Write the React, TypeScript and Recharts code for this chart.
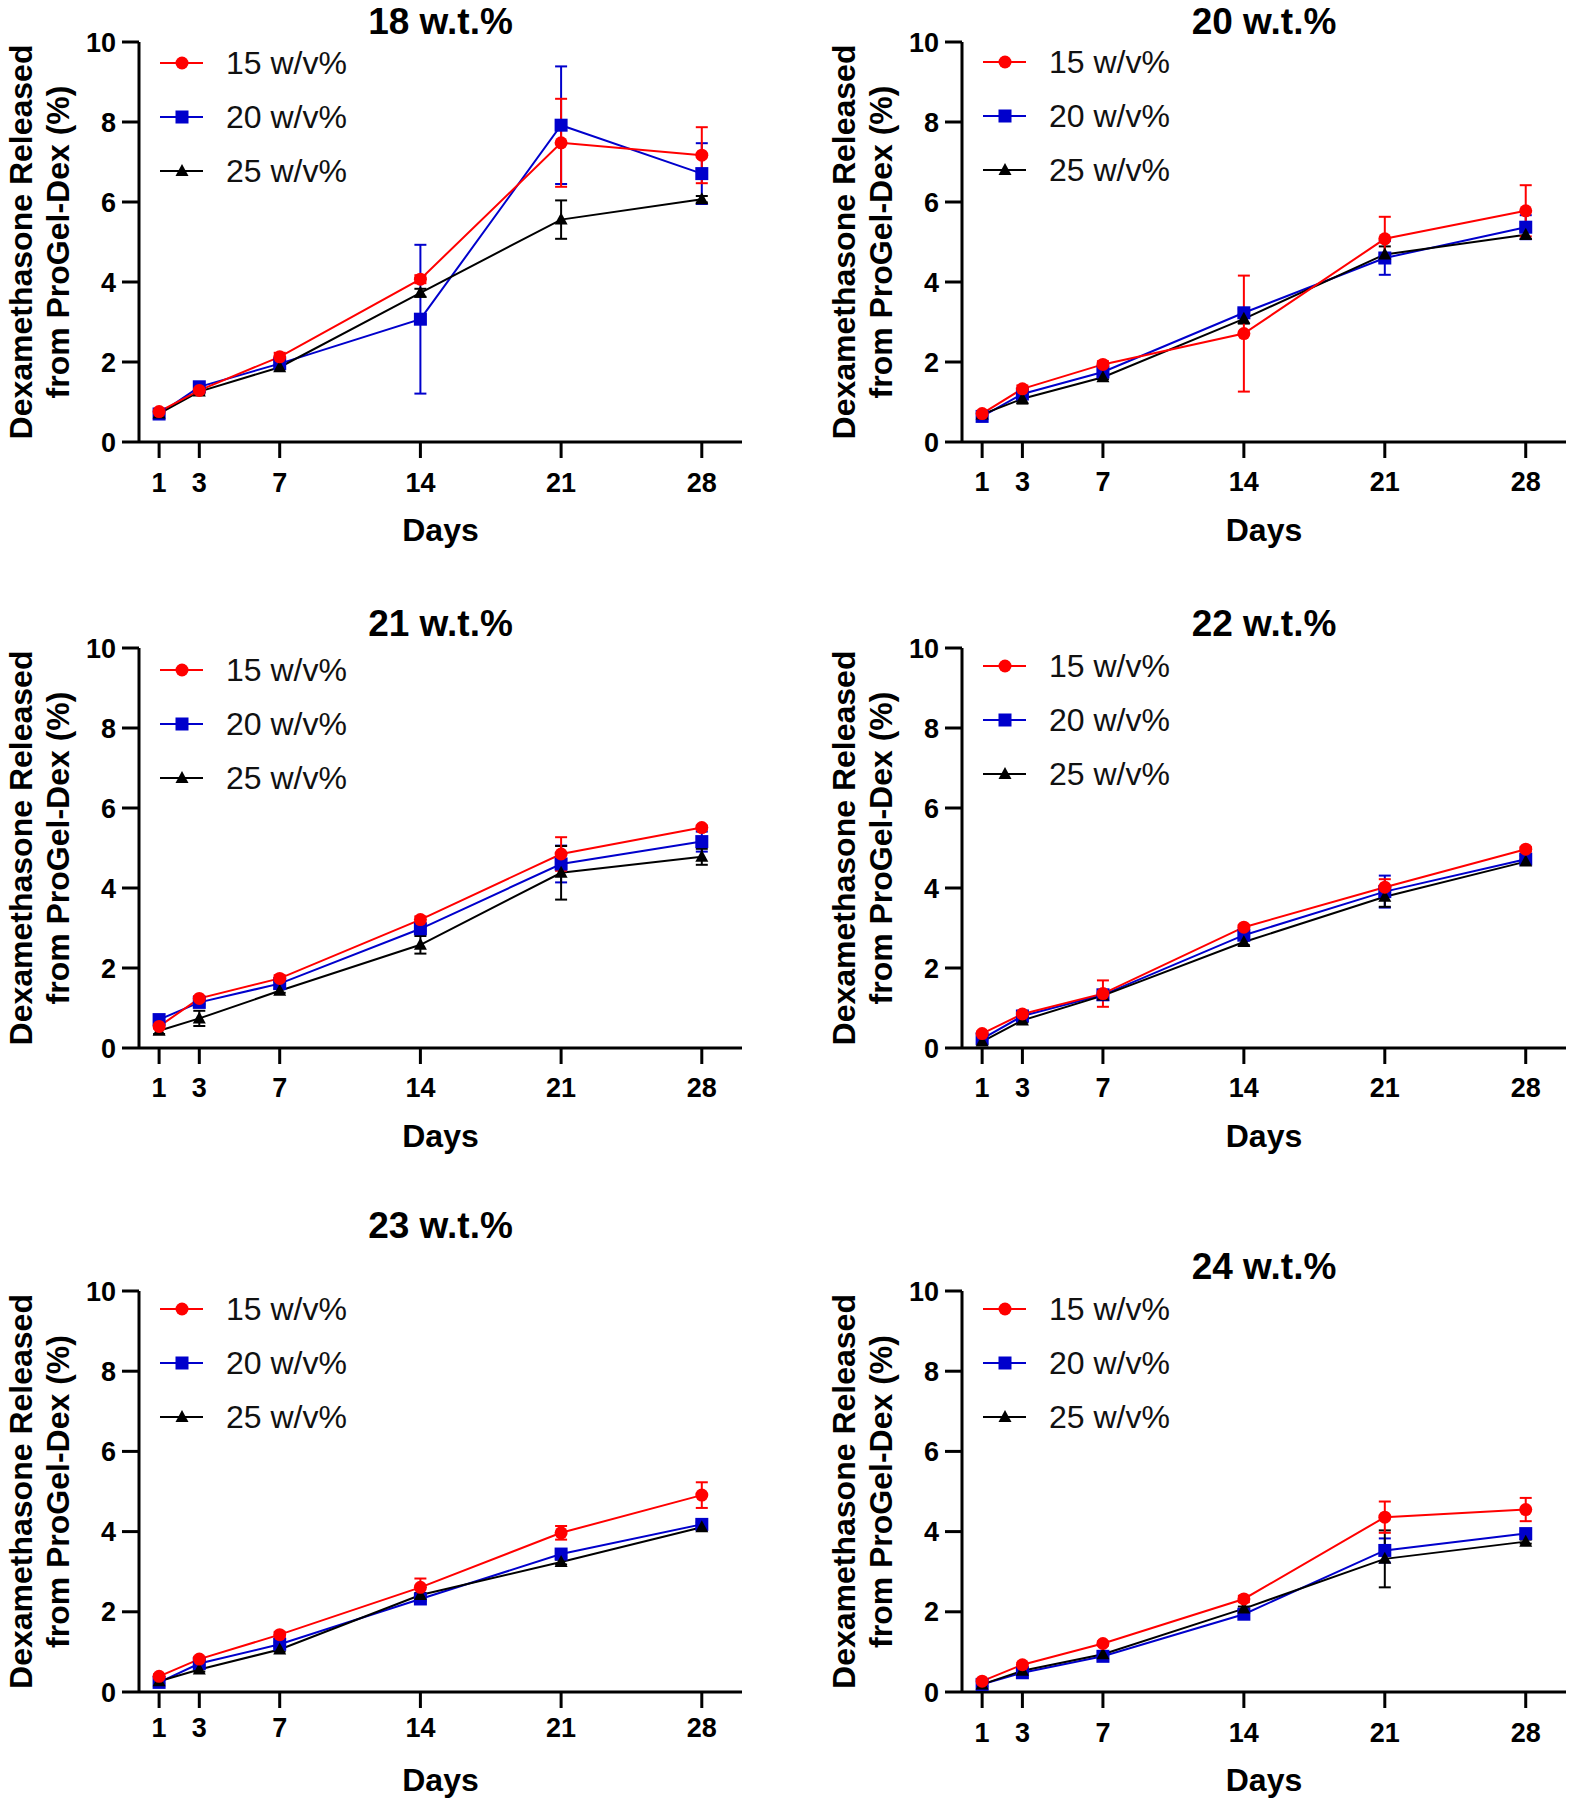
import React from 'react';
import { LineChart, Line, XAxis, YAxis, ErrorBar, Legend, Label } from 'recharts';

// ---------- data ----------
const DAYS = [1, 3, 7, 14, 21, 28];
const X_DOMAIN: [number, number] = [0, 30];
const Y_DOMAIN: [number, number] = [0, 10];
const Y_TICKS = [0, 2, 4, 6, 8, 10];
const SERIES_LABELS = ['15 w/v%', '20 w/v%', '25 w/v%'];
const X_LABEL = 'Days';
const Y_LABEL_LINES = ['Dexamethasone Released', 'from ProGel-Dex (%)'];
const PANEL_TITLES = ['18 w.t.%', '20 w.t.%', '21 w.t.%', '22 w.t.%', '23 w.t.%', '24 w.t.%'];

// 18 w.t.%
const WT18_15 = [0.76, 1.29, 2.13, 4.07, 7.48, 7.17];
const WT18_15_SD = [0.05, 0.05, 0.1, 0.1, 1.1, 0.7];
const WT18_20 = [0.7, 1.38, 1.96, 3.07, 7.92, 6.71];
const WT18_20_SD = [0.1, 0.05, 0.05, 1.86, 1.47, 0.76];
const WT18_25 = [0.71, 1.26, 1.87, 3.73, 5.56, 6.07];
const WT18_25_SD = [0.05, 0.05, 0.05, 0.1, 0.48, 0.08];

// 20 w.t.%
const WT20_15 = [0.71, 1.33, 1.94, 2.71, 5.08, 5.78];
const WT20_15_SD = [0.05, 0.08, 0.08, 1.45, 0.55, 0.64];
const WT20_20 = [0.64, 1.2, 1.75, 3.23, 4.6, 5.37];
const WT20_20_SD = [0.05, 0.05, 0.05, 0.1, 0.42, 0.3];
const WT20_25 = [0.69, 1.08, 1.62, 3.08, 4.69, 5.18];
const WT20_25_SD = [0.05, 0.12, 0.05, 0.12, 0.2, 0.1];

// 21 w.t.%
const WT21_15 = [0.54, 1.24, 1.74, 3.21, 4.85, 5.51];
const WT21_15_SD = [0.05, 0.06, 0.08, 0.08, 0.42, 0.05];
const WT21_20 = [0.71, 1.14, 1.61, 2.98, 4.6, 5.16];
const WT21_20_SD = [0.05, 0.05, 0.05, 0.05, 0.46, 0.25];
const WT21_25 = [0.43, 0.74, 1.43, 2.58, 4.38, 4.78];
const WT21_25_SD = [0.08, 0.19, 0.05, 0.22, 0.67, 0.2];

// 22 w.t.%
const WT22_15 = [0.36, 0.85, 1.36, 3.02, 4.02, 4.97];
const WT22_15_SD = [0.05, 0.06, 0.33, 0.06, 0.2, 0.06];
const WT22_20 = [0.23, 0.8, 1.33, 2.82, 3.91, 4.72];
const WT22_20_SD = [0.05, 0.05, 0.05, 0.08, 0.4, 0.08];
const WT22_25 = [0.16, 0.69, 1.31, 2.65, 3.78, 4.66];
const WT22_25_SD = [0.05, 0.05, 0.05, 0.08, 0.25, 0.05];

// 23 w.t.%
const WT23_15 = [0.39, 0.82, 1.43, 2.61, 3.97, 4.91];
const WT23_15_SD = [0.05, 0.06, 0.07, 0.22, 0.17, 0.32];
const WT23_20 = [0.24, 0.71, 1.19, 2.32, 3.44, 4.18];
const WT23_20_SD = [0.05, 0.05, 0.05, 0.05, 0.08, 0.05];
const WT23_25 = [0.27, 0.56, 1.06, 2.42, 3.24, 4.11];
const WT23_25_SD = [0.05, 0.05, 0.05, 0.05, 0.06, 0.05];

// 24 w.t.%
const WT24_15 = [0.27, 0.68, 1.21, 2.32, 4.36, 4.55];
const WT24_15_SD = [0.05, 0.05, 0.05, 0.08, 0.39, 0.29];
const WT24_20 = [0.19, 0.48, 0.89, 1.94, 3.53, 3.95];
const WT24_20_SD = [0.05, 0.05, 0.05, 0.05, 0.3, 0.05];
const WT24_25 = [0.19, 0.53, 0.94, 2.08, 3.32, 3.75];
const WT24_25_SD = [0.05, 0.05, 0.05, 0.05, 0.71, 0.05];

const PANEL_VALUES = [
  [WT18_15, WT18_20, WT18_25],
  [WT20_15, WT20_20, WT20_25],
  [WT21_15, WT21_20, WT21_25],
  [WT22_15, WT22_20, WT22_25],
  [WT23_15, WT23_20, WT23_25],
  [WT24_15, WT24_20, WT24_25],
];
const PANEL_SD = [
  [WT18_15_SD, WT18_20_SD, WT18_25_SD],
  [WT20_15_SD, WT20_20_SD, WT20_25_SD],
  [WT21_15_SD, WT21_20_SD, WT21_25_SD],
  [WT22_15_SD, WT22_20_SD, WT22_25_SD],
  [WT23_15_SD, WT23_20_SD, WT23_25_SD],
  [WT24_15_SD, WT24_20_SD, WT24_25_SD],
];

// ---------- styling ----------
const FONT = '"Liberation Sans", Arial, Helvetica, sans-serif';
const SERIES = [
  { key: 's15', err: 'e15', color: '#ff0000', shape: 'circle' },
  { key: 's20', err: 'e20', color: '#0000cc', shape: 'square' },
  { key: 's25', err: 'e25', color: '#000000', shape: 'triangle' },
];
const DRAW_ORDER = [1, 2, 0];
const YW = 60;
const XH = 60;
const TITLE_SIZE = 37;

const LAYOUT = [
  { cx: 0, cy: 0, cw: 770, ch: 580, pl: 139, pt: 42, pr: 742, pb: 442, titleY: 21, legY: 21, tickM: 15 },
  { cx: 790, cy: 0, cw: 779, ch: 580, pl: 962, pt: 42, pr: 1566, pb: 442, titleY: 21, legY: 20, tickM: 14 },
  { cx: 0, cy: 590, cw: 770, ch: 580, pl: 139, pt: 648, pr: 742, pb: 1048, titleY: 623, legY: 22, tickM: 14 },
  { cx: 790, cy: 590, cw: 779, ch: 580, pl: 962, pt: 648, pr: 1566, pb: 1048, titleY: 623, legY: 18, tickM: 14 },
  { cx: 0, cy: 1190, cw: 770, ch: 610, pl: 139, pt: 1291, pr: 742, pb: 1692, titleY: 1225, legY: 18, tickM: 10 },
  { cx: 790, cy: 1190, cw: 779, ch: 610, pl: 962, pt: 1291, pr: 1566, pb: 1692, titleY: 1266, legY: 18, tickM: 15 },
];

function Marker({ shape, cx, cy, color }: { shape: string; cx: number; cy: number; color: string }) {
  if (shape === 'circle') return <circle cx={cx} cy={cy} r={6.5} fill={color} />;
  if (shape === 'square') return <rect x={cx - 6.5} y={cy - 6.5} width={13} height={13} fill={color} />;
  return <polygon points={`${cx},${cy - 7} ${cx + 6.5},${cy + 5} ${cx - 6.5},${cy + 5}`} fill={color} />;
}

function renderLegend(props: any) {
  const payload: any[] = props.payload || [];
  const rows = SERIES.map((s, i) => {
    const e = payload.find((p) => p.dataKey === s.key);
    return { label: e ? e.value : SERIES_LABELS[i], color: e && e.color ? e.color : s.color, shape: s.shape };
  });
  return (
    <div>
      {rows.map((r, i) => (
        <div key={i} style={{ display: 'flex', alignItems: 'center', height: 54 }}>
          <svg width={44} height={20} style={{ display: 'block' }}>
            <line x1={0} y1={10} x2={43} y2={10} stroke={r.color} strokeWidth={2} />
            <Marker shape={r.shape} cx={22} cy={10} color={r.color} />
          </svg>
          <span style={{ marginLeft: 22, fontSize: 32, lineHeight: '32px', color: '#111', fontFamily: FONT, whiteSpace: 'nowrap' }}>
            {r.label}
          </span>
        </div>
      ))}
    </div>
  );
}

function Panel({ index }: { index: number }) {
  const L = LAYOUT[index];
  const values = PANEL_VALUES[index];
  const sds = PANEL_SD[index];
  const data = DAYS.map((day, i) => ({
    day,
    s15: values[0][i],
    e15: sds[0][i],
    s20: values[1][i],
    e20: sds[1][i],
    s25: values[2][i],
    e25: sds[2][i],
  }));
  const margin = {
    top: L.pt - L.cy,
    left: L.pl - L.cx - YW,
    right: L.cx + L.cw - L.pr,
    bottom: L.cy + L.ch - L.pb - XH,
  };
  const axisX = L.pl - L.cx;
  const midY = (L.pt + L.pb) / 2 - L.cy;
  const midX = (L.pl + L.pr) / 2 - L.cx;
  const bottomY = L.pb - L.cy;
  const tickStyle = { fill: '#000', fontSize: 27, fontWeight: 700, fontFamily: FONT };
  const axisStyle = { stroke: '#000', strokeWidth: 3 };
  const yLabelOffsets = [-107, -70];
  // cap-middle offset from top of a line box whose line-height equals the font size
  const capMid = TITLE_SIZE * ((1 - 1.117) / 2 + 0.905 - 0.358);

  return (
    <div style={{ position: 'absolute', left: L.cx, top: L.cy, width: L.cw, height: L.ch }}>
      <div
        style={{
          position: 'absolute',
          left: midX - 250,
          width: 500,
          top: L.titleY - capMid - L.cy,
          textAlign: 'center',
          fontSize: TITLE_SIZE,
          lineHeight: `${TITLE_SIZE}px`,
          fontWeight: 700,
          fontFamily: FONT,
          color: '#000',
        }}
      >
        {PANEL_TITLES[index]}
      </div>
      <LineChart width={L.cw} height={L.ch} data={data} margin={margin}>
        <XAxis
          type="number"
          dataKey="day"
          domain={X_DOMAIN}
          ticks={DAYS}
          interval={0}
          height={XH}
          tickSize={16}
          tickMargin={L.tickM}
          axisLine={axisStyle}
          tickLine={axisStyle}
          tick={tickStyle}
        >
          <Label
            content={() => (
              <text x={midX} y={bottomY + 99} textAnchor="middle" fontSize={32} fontWeight={700} fill="#000" fontFamily={FONT}>
                {X_LABEL}
              </text>
            )}
          />
        </XAxis>
        <YAxis
          type="number"
          domain={Y_DOMAIN}
          ticks={Y_TICKS}
          interval={0}
          width={YW}
          tickSize={17}
          tickMargin={6}
          axisLine={axisStyle}
          tickLine={axisStyle}
          tick={tickStyle}
        >
          <Label
            content={() => (
              <g>
                {Y_LABEL_LINES.map((t, i) => (
                  <text
                    key={i}
                    transform={`translate(${axisX + yLabelOffsets[i]}, ${midY}) rotate(-90)`}
                    textAnchor="middle"
                    fontSize={32}
                    fontWeight={700}
                    fill="#000"
                    fontFamily={FONT}
                  >
                    {t}
                  </text>
                ))}
              </g>
            )}
          />
        </YAxis>
        <Legend
          layout="vertical"
          align="center"
          verticalAlign="middle"
          content={renderLegend}
          wrapperStyle={{ left: axisX + 21, top: L.pt - L.cy + L.legY - 27, width: 320 }}
        />
        {DRAW_ORDER.map((si) => {
          const s = SERIES[si];
          return (
            <Line
              key={s.key}
              type="linear"
              dataKey={s.key}
              name={SERIES_LABELS[si]}
              stroke={s.color}
              strokeWidth={2}
              isAnimationActive={false}
              activeDot={false}
              dot={(p: any) =>
                p.cx == null || p.cy == null ? (
                  <g key={`${s.key}-d-${p.index}`} />
                ) : (
                  <Marker key={`${s.key}-d-${p.index}`} shape={s.shape} cx={p.cx} cy={p.cy} color={s.color} />
                )
              }
            >
              <ErrorBar dataKey={s.err} direction="y" width={6} strokeWidth={2} stroke={s.color} />
            </Line>
          );
        })}
      </LineChart>
    </div>
  );
}

export default function App() {
  return (
    <div
      style={{
        position: 'absolute',
        left: 0,
        top: 0,
        width: 1569,
        height: 1800,
        background: '#fff',
        fontFamily: FONT,
        overflow: 'hidden',
      }}
    >
      {PANEL_TITLES.map((_, i) => (
        <Panel key={i} index={i} />
      ))}
    </div>
  );
}
